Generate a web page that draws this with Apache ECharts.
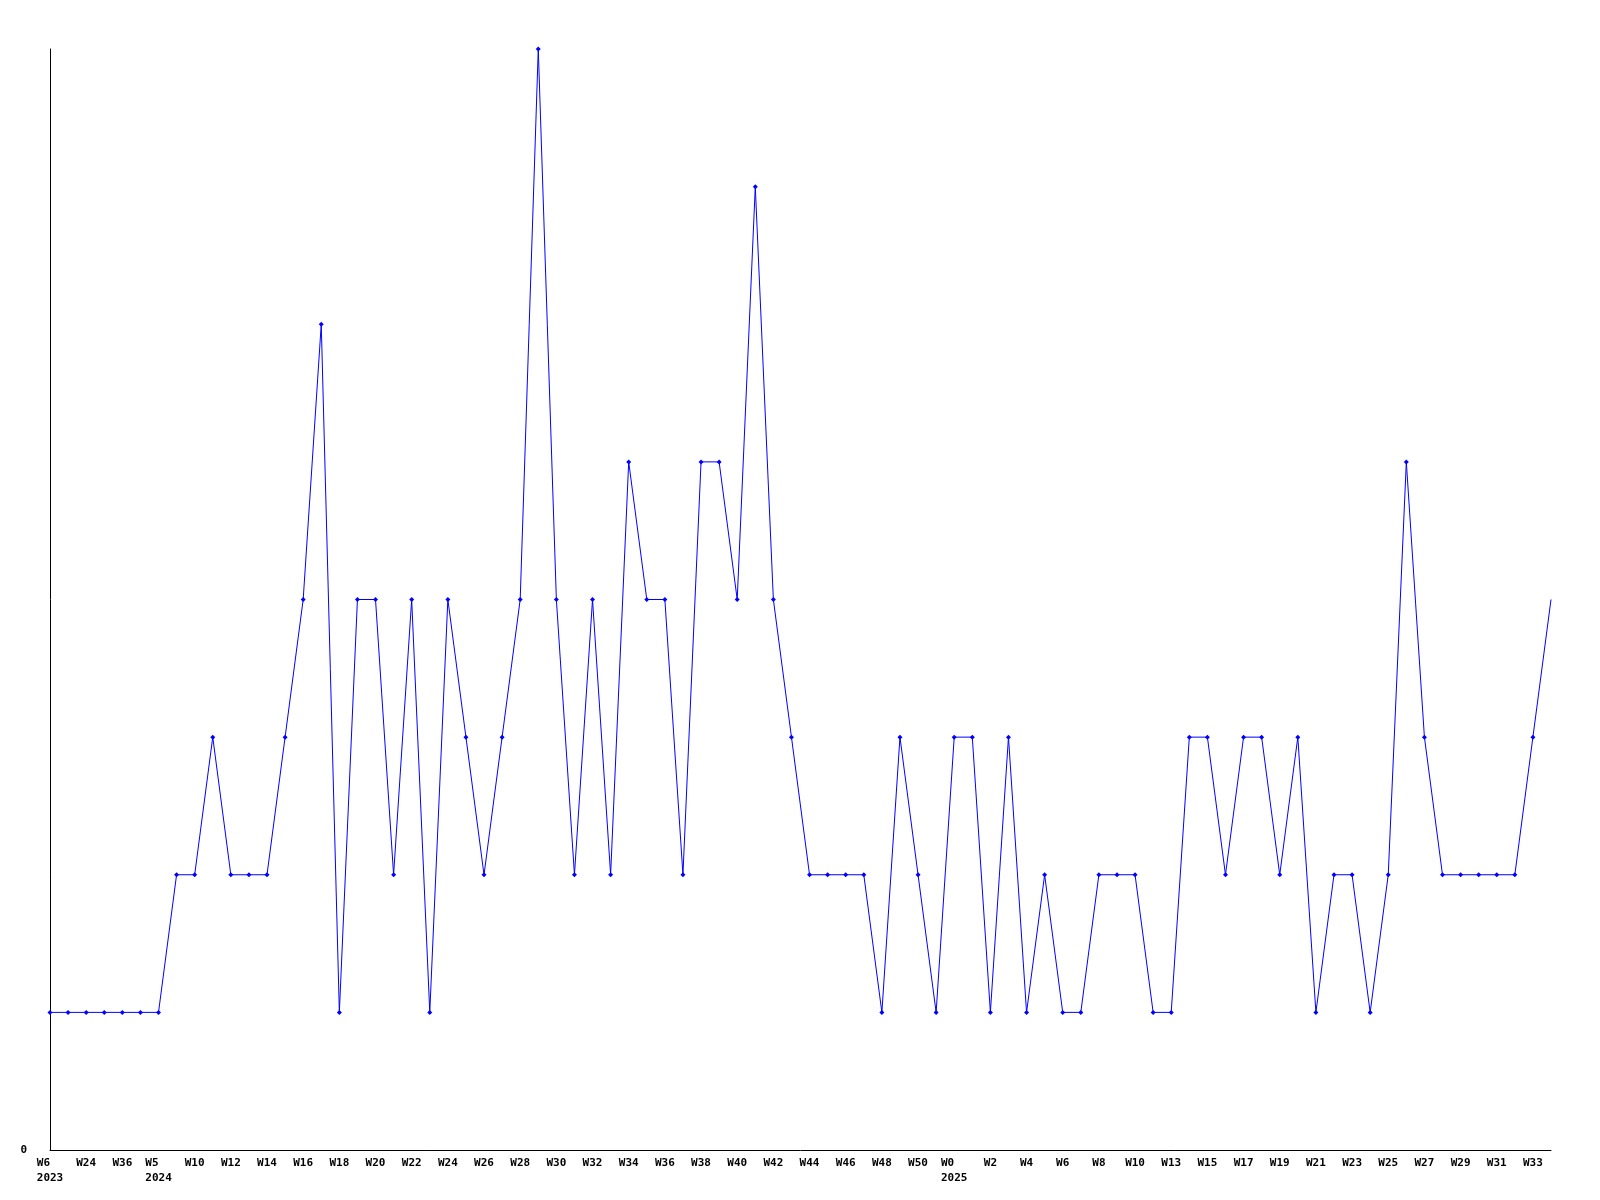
<!DOCTYPE html>
<html>
<head>
<meta charset="utf-8">
<script src="https://cdn.jsdelivr.net/npm/echarts@6/dist/echarts.min.js"></script>
<style>
html,body{margin:0;padding:0;background:#fff;}
#chart{width:1600px;height:1200px;}
</style>
</head>
<body>
<div id="chart"></div>
<script>
const weeks = [
  "W6\n2023","W15","W24","W30","W36","W44","W5\n2024","W8",
  "W10","W11","W12","W13","W14","W15","W16","W17","W18","W19","W20","W21",
  "W22","W23","W24","W25","W26","W27","W28","W29","W30","W31","W32","W33",
  "W34","W35","W36","W37","W38","W39","W40","W41","W42","W43","W44","W45",
  "W46","W47","W48","W49","W50","W52","W0\n2025","W1","W2","W3","W4","W5",
  "W6","W7","W8","W9","W10","W11","W13","W14","W15","W16","W17","W18",
  "W19","W20","W21","W22","W23","W24","W25","W26","W27","W28","W29","W30",
  "W31","W32","W33","W34"
];
const counts = [
  1,1,1,1,1,1,1,2,
  2,3,2,2,2,3,4,6,1,4,4,2,
  4,1,4,3,2,3,4,8,4,2,4,2,
  5,4,4,2,5,5,4,7,4,3,2,2,
  2,2,1,3,2,1,3,3,1,3,1,2,
  1,1,2,2,2,1,1,3,3,2,3,3,
  2,3,1,2,2,1,2,5,3,2,2,2,
  2,2,3,4
];
const yMin = 0;
const yMax = 8;

function padLines(s){
  const lines = String(s).split('\n');
  const w = Math.max.apply(null, lines.map(l=>l.length));
  return lines.map(l=> l + ' '.repeat(w - l.length)).join('\n');
}

const chart = echarts.init(document.getElementById('chart'), null, {renderer:'canvas'});
const labelFont = {fontFamily:'DejaVu Sans Mono', fontWeight:'bold', fontSize:11, color:'#000'};
chart.setOption({
  animation:false,
  backgroundColor:'#fff',
  grid:{left:50, right:49, top:49, bottom:50, containLabel:false},
  xAxis:{
    type:'category',
    data:weeks,
    boundaryGap:false,
    axisLine:{show:true, lineStyle:{color:'#000', width:1}},
    axisTick:{show:false},
    splitLine:{show:false},
    axisLabel:Object.assign({interval:1, margin:6, lineHeight:15, align:'center', formatter:padLines}, labelFont)
  },
  yAxis:{
    type:'value',
    min:yMin, max:yMax, interval:1,
    axisLine:{show:true, lineStyle:{color:'#000', width:1}},
    axisTick:{show:false},
    splitLine:{show:false},
    axisLabel:Object.assign({margin:23, formatter:function(v){return v===0?'0':'';}}, labelFont)
  },
  series:[{
    type:'line',
    data:counts.map((v,i)=> i===counts.length-1 ? {value:v, symbol:'none'} : v),
    symbol:'diamond',
    symbolSize:5,
    showAllSymbol:true,
    lineStyle:{color:'#0000ff', width:1},
    itemStyle:{color:'#0000ff'}
  }]
});
</script>
</body>
</html>
